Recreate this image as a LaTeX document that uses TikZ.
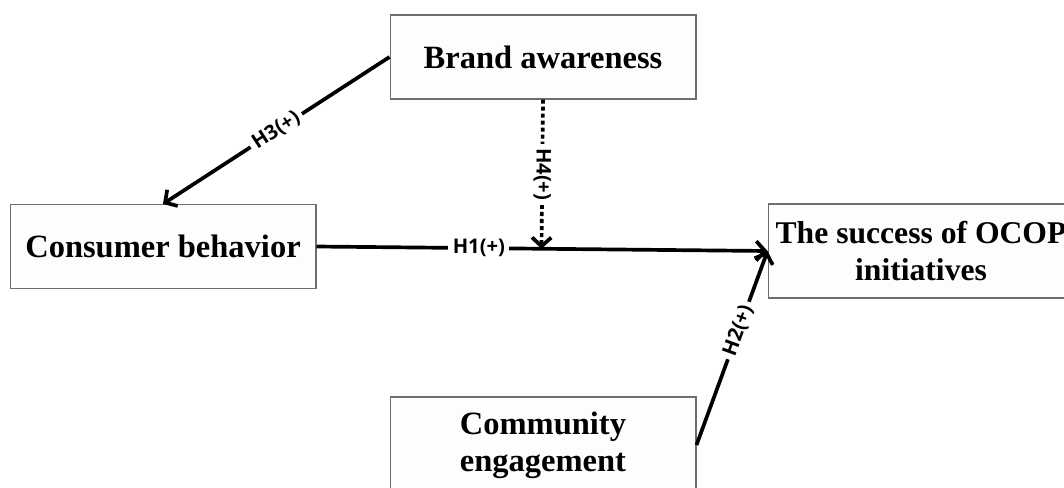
\documentclass[tikz,border=0pt]{standalone}
\usepackage{fontspec}
\setmainfont{Liberation Serif}
\setsansfont{Open Sans}
\usepackage{tikz}
\usetikzlibrary{arrows.meta,positioning,calc}
\definecolor{boxline}{RGB}{110,110,110}
\definecolor{boxfill}{RGB}{253,253,253}

\begin{document}
\begin{tikzpicture}[x=0.02cm, y=-0.02cm,
  box/.style={draw=boxline, fill=boxfill, line width=0.6pt, minimum width=6.12cm, minimum height=1.68cm, align=center, inner sep=0pt, font=\fontsize{18.5}{21}\selectfont\bfseries},
  arr/.style={-{Straight Barb[length=5pt, width=11pt]}, line width=2.1pt},
  hyp/.style={font=\sffamily\bfseries\fontsize{11.5}{13}\selectfont, fill=white, inner sep=2.5pt},
]
\useasboundingbox (0,0) rectangle (1064,487);

% CONSTRUCTS
\node[box] (brand) at (543, 57) {Brand awareness};
\node[box] (consumer) at (163, 246.5) {Consumer behavior};
\node[box, minimum height=1.88cm, font=\fontsize{18}{21}\selectfont\bfseries] (success) at (921, 251) {The success of OCOP\\initiatives};
\node[box, minimum height=1.92cm] (community) at (543, 445) {Community\\engagement};

% HYPOTHESES
\draw[arr] (brand.west) -- node[hyp, sloped] {H3(+)} (consumer.north);
\draw[arr] (consumer.east) -- node[hyp, pos=0.36] {H1(+)} (success.west);
\coordinate (meet) at ($(consumer.east)!(brand.south)!(success.west)$);
\draw[arr, dash pattern=on 2.3pt off 1.7pt] (brand.south) -- node[hyp, rotate=-90] {H4(+)} (meet);
\draw[arr] (community.east) -- node[hyp, sloped, pos=0.59] {H2(+)} (success.west);
\end{tikzpicture}
\end{document}
